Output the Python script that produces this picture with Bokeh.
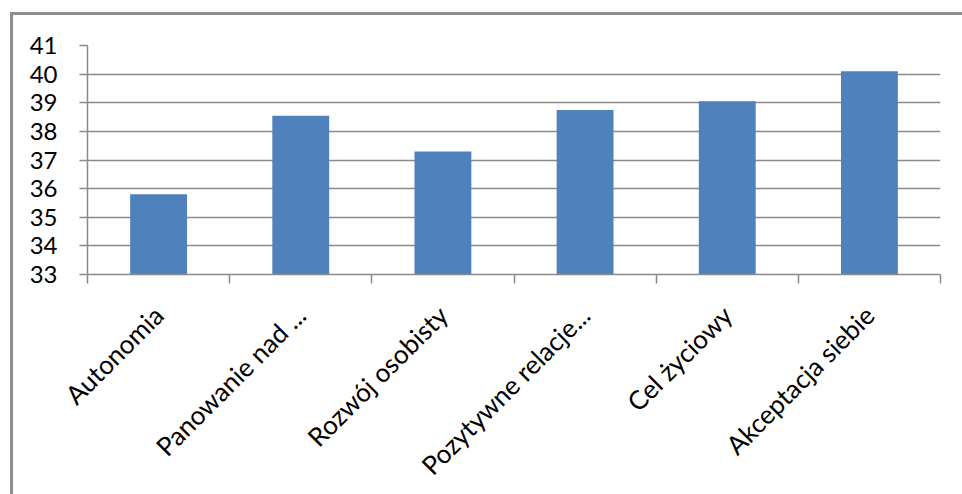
import numpy as np
from bokeh.plotting import figure
from bokeh.models import Range1d, FixedTicker, ColumnDataSource
from bokeh.embed import file_html
from bokeh.resources import INLINE

categories = ["Autonomia", "Panowanie nad ...", "Rozwój osobisty",
              "Pozytywne relacje...", "Cel życiowy", "Akceptacja siebie"]
values = [35.8, 38.55, 37.3, 38.75, 39.05, 40.1]
y_ticks = [33, 34, 35, 36, 37, 38, 39, 40, 41]

n = len(categories)
centers = [i + 0.5 for i in range(n)]
src = ColumnDataSource(dict(x=centers, top=values, cat=categories))

# figure is offset by 10px margin + 3px border on the left, 12px + 3px on top
p = figure(frame_width=853, frame_height=229, output_backend="svg", toolbar_location=None,
           x_range=Range1d(0, n), y_range=Range1d(33, 41),
           min_border_left=74, min_border_right=22, min_border_top=30, min_border_bottom=200)
p.outline_line_color = None
p.background_fill_color = "white"
p.border_fill_color = "white"
p.styles = {"border-top": "3px solid #8e8e8e", "border-left": "3px solid #8e8e8e",
            "margin-left": "10px", "margin-top": "12px", "box-sizing": "content-box"}

p.vbar(x="x", top="top", bottom=33, width=0.4, source=src, fill_color="#4F81BD", line_color=None)

grid_col = "#8a8a8a"
# x axis
xa = p.xaxis[0]
xa.ticker = FixedTicker(ticks=centers, minor_ticks=list(range(n + 1)))
xa.major_label_overrides = {c: lab for c, lab in zip(centers, categories)}
xa.major_tick_line_color = None
xa.minor_tick_line_color = grid_col
xa.minor_tick_line_width = 1.5
xa.minor_tick_out = 9
xa.minor_tick_in = 0
xa.axis_line_color = grid_col
xa.axis_line_width = 1.5
xa.major_label_orientation = np.pi / 4
xa.major_label_text_font = "Lato"
xa.major_label_text_font_size = "26px"
xa.major_label_text_color = "black"
xa.major_label_standoff = 27

# y axis
ya = p.yaxis[0]
ya.ticker = FixedTicker(ticks=y_ticks)
ya.major_tick_line_color = grid_col
ya.major_tick_line_width = 1.5
ya.major_tick_out = 8
ya.major_tick_in = 0
ya.minor_tick_line_color = None
ya.axis_line_color = grid_col
ya.axis_line_width = 1.5
ya.major_label_text_font = "Lato"
ya.major_label_text_font_size = "24px"
ya.major_label_text_color = "black"
ya.major_label_standoff = 22

p.xgrid.grid_line_color = None
p.ygrid.grid_line_color = grid_col
p.ygrid.grid_line_width = 1.5
p.ygrid.level = "underlay"

html = file_html(p, INLINE)
html = html.replace("<head>", "<head><style>html,body{overflow:hidden;margin:0;}</style>", 1)
open("out.html", "w").write(html)
